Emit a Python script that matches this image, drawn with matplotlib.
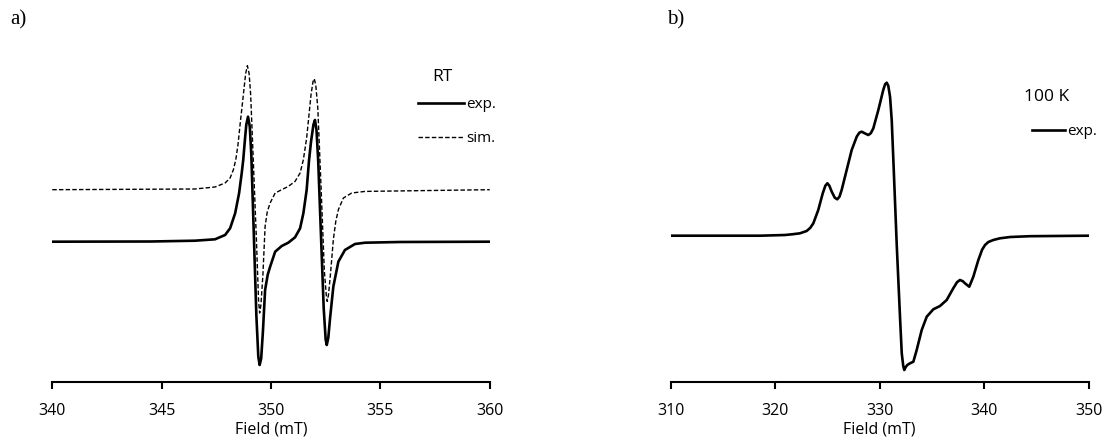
import matplotlib
matplotlib.use("Agg")
import matplotlib.pyplot as plt

# ---- data (field in mT, signal in arbitrary units) ----
# a) room temperature, experimental
rt_field = [340.0, 344.5, 346.52, 347.44, 347.90, 348.13, 348.36, 348.54, 348.66,
            348.73, 348.80, 348.87, 348.95, 349.03, 349.10, 349.22, 349.33, 349.42,
            349.48, 349.55, 349.63, 349.73, 349.85, 349.96, 350.19, 350.49, 350.79,
            351.10, 351.33, 351.48, 351.63, 351.74, 351.83, 351.94, 352.01, 352.08,
            352.16, 352.29, 352.41, 352.50, 352.55, 352.62, 352.70, 352.85, 353.08,
            353.38, 353.84, 354.30, 355.9, 360.0]
rt_exp = [0, 0.2, 1, 2.4, 6.7, 13.4, 28.4, 48.4, 68.4,
          81.7, 100, 117, 125, 115, 86.7, 3.4, -73.3, -115,
          -123.3, -117, -90, -48.3, -33, -25, -10, -4.3, -1,
          4.4, 13.4, 28.4, 51.7, 81.7, 100, 117, 121.7, 112,
          80, 3.4, -66.6, -98, -103.3, -96, -76.6, -45, -20,
          -8.3, -2.3, -1, -0.3, 0]

# a) room temperature, simulated
sim_field = [340.0, 346.52, 347.44, 347.90, 348.13, 348.28, 348.39, 348.49, 348.60,
             348.72, 348.84, 348.92, 349.00, 349.07, 349.18, 349.33, 349.43, 349.48,
             349.54, 349.63, 349.73, 349.83, 349.96, 350.19, 350.49, 350.79, 351.10,
             351.33, 351.48, 351.63, 351.83, 351.92, 351.98, 352.05, 352.14, 352.29,
             352.44, 352.53, 352.57, 352.63, 352.73, 352.85, 352.96, 353.08, 353.31,
             353.69, 354.30, 360.0]
sim_rt = [0, 0.7, 2.7, 6.7, 11.7, 20, 30, 45, 68,
          91.7, 116, 124, 116, 95, 35, -48.3, -110, -123.3,
          -115, -85, -36.7, -22, -13.3, -3.3, 0, 3.3, 8.3,
          16.7, 30, 51.7, 95, 108, 111, 104, 81.7, 1.7,
          -81.7, -106, -111.7, -105, -81.7, -50, -32, -20, -8.3,
          -3.3, -1.7, 0]

# b) 100 K, experimental
lt_field = [310.0, 318.55, 320.94, 321.70, 322.37, 323.01, 323.35, 323.65, 324.12,
            324.55, 324.80, 324.99, 325.18, 325.41, 325.70, 325.94, 326.15, 326.36,
            326.84, 327.32, 327.80, 328.05, 328.28, 328.55, 328.91, 329.15, 329.39,
            329.87, 330.34, 330.52, 330.67, 330.82, 330.99, 331.15, 331.31, 331.63,
            331.96, 332.11, 332.25, 332.35, 332.48, 332.64, 332.90, 333.22, 333.54,
            334.02, 334.50, 335.13, 335.77, 336.41, 337.04, 337.40, 337.68, 337.95,
            338.16, 338.57, 338.96, 339.44, 339.80, 340.08, 340.40, 340.87, 341.51,
            342.5, 344.38, 350.0]
lt_exp = [0, 0, 0.7, 1.5, 2.4, 4.7, 7.8, 12.4, 25.7,
          42.4, 50, 52.4, 50, 44, 38, 36.4, 39, 45.7,
          65.7, 85.7, 99, 103, 104, 102.5, 100.7, 102.5, 107.4,
          125.7, 145.7, 151.5, 153, 150, 139, 115.7, 75, -9,
          -85, -117.6, -130, -134.3, -131.5, -129.3, -127.6, -126, -114.3,
          -94.3, -81, -73.6, -70.3, -64.3, -52.6, -46.5, -44.3, -45.5,
          -47.6, -51, -41, -24.3, -14, -9.3, -6.3, -4.3, -2.6,
          -1.3, -0.5, 0]

sim_offset = 52

fig = plt.figure(figsize=(11.05, 4.45), dpi=100)
ax1 = fig.add_axes([52.3 / 1105, 63.3 / 445, 437.4 / 1105, 341.7 / 445])
ax2 = fig.add_axes([670.7 / 1105, 63.3 / 445, 418 / 1105, 341.7 / 445])

tick_font = dict(family="Open Sans", size=11.5)

ax1.plot(rt_field, rt_exp, color="black", lw=1.9, label="exp.")
ax1.plot(sim_field, [v + sim_offset for v in sim_rt], color="black", lw=1.0,
         ls=(0, (3.2, 1.6)), label="sim.")
ax1.set_xlim(340, 360)
ax1.set_ylim(-140, 201.7)
ax1.set_xticks([340, 345, 350, 355, 360])

ax2.plot(lt_field, lt_exp, color="black", lw=1.9, label="exp.")
ax2.set_xlim(310, 350)
ax2.set_ylim(-146, 195.7)
ax2.set_xticks([310, 320, 330, 340, 350])

for ax in (ax1, ax2):
    for s in ("top", "right", "left"):
        ax.spines[s].set_visible(False)
    ax.spines["bottom"].set_linewidth(1.5)
    ax.set_yticks([])
    ax.tick_params(axis="x", direction="out", length=5, width=1.5, pad=10)
    for lab in ax.get_xticklabels():
        lab.set_fontfamily("Open Sans")
        lab.set_fontsize(11.5)
    ax.set_xlabel("Field (mT)", fontdict=tick_font, labelpad=2)
    ax.patch.set_alpha(0)

leg1 = ax1.legend(loc="upper left", bbox_to_anchor=(418 / 1105, 1 - 97 / 445),
                  bbox_transform=fig.transFigure, frameon=False, handlelength=3.0,
                  handletextpad=0.15, labelspacing=1.25, borderpad=0, borderaxespad=0,
                  prop=dict(family="Open Sans", size=11))
leg2 = ax2.legend(loc="upper left", bbox_to_anchor=(1031.7 / 1105, 1 - 124 / 445),
                  bbox_transform=fig.transFigure, frameon=False, handlelength=2.2,
                  handletextpad=0.15, borderpad=0, borderaxespad=0,
                  prop=dict(family="Open Sans", size=11))

fig.text(442 / 1105, 1 - 77 / 445, "RT", ha="center", va="center",
         family="Open Sans", size=12.5)
fig.text(1047 / 1105, 1 - 97 / 445, "100 K", ha="center", va="center",
         family="Open Sans", size=12.5)

fig.text(10 / 1105, 1 - 20 / 445, "a)", ha="left", va="center",
         family="Liberation Serif", size=15)
fig.text(667 / 1105, 1 - 20 / 445, "b)", ha="left", va="center",
         family="Liberation Serif", size=15)

fig.savefig("out.png", dpi=100)
